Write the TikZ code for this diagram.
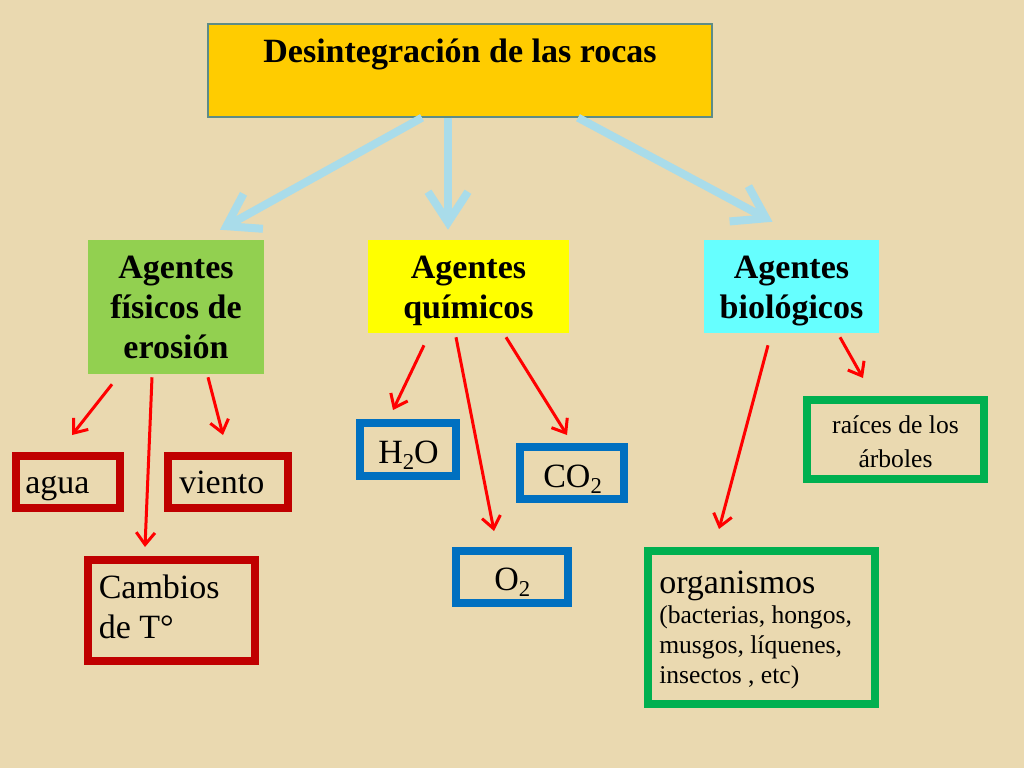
\documentclass[tikz,border=0pt]{standalone}
\usepackage{fontspec}
\setmainfont{Liberation Serif}
\usetikzlibrary{arrows.meta,calc,fit}
\definecolor{bg}{HTML}{EAD9B0}
\definecolor{topfill}{HTML}{FFCC00}
\definecolor{topline}{HTML}{5E8C86}
\definecolor{greenfill}{HTML}{92D050}
\definecolor{yellowfill}{HTML}{FFFF00}
\definecolor{cyanfill}{HTML}{66FFFF}
\definecolor{redline}{HTML}{C00000}
\definecolor{blueline}{HTML}{0070C0}
\definecolor{greenline}{HTML}{00B050}
\definecolor{paleblue}{HTML}{A9DCEA}
\definecolor{arrowred}{HTML}{FF0000}
\newcommand{\bigf}{\fontsize{25.5}{30}\selectfont}
\newcommand{\smallf}{\fontsize{19.2}{22.5}\selectfont}
\newcommand{\midf}{\fontsize{19.2}{25.5}\selectfont}
\newcommand{\subtwo}{\raisebox{-4.5pt}{\fontsize{17}{17}\selectfont 2}}
\tikzset{
  fillbox/.style={inner sep=0pt, draw=none},
  framebox/.style={inner sep=0pt, line width=6pt},
  redbox/.style={framebox, draw=redline},
  bluebox/.style={framebox, draw=blueline},
  greenbox/.style={framebox, draw=greenline},
  txt/.style={inner sep=0pt, font=\bigf},
  boldtxt/.style={inner sep=0pt, font=\bigf\bfseries, align=center},
  bigarrow/.style={draw=paleblue, line width=6pt,
    -{Straight Barb[length=23pt,width=30pt,line width=6pt]}},
  redarrow/.style={draw=arrowred, line width=2.25pt,
    -{Straight Barb[length=9pt,width=14pt,line width=2.25pt]}}
}
\begin{document}
\begin{tikzpicture}[x=0.75pt,y=-0.75pt]
\fill[bg] (0,0) rectangle (1024,768);
\useasboundingbox (0,0) rectangle (1024,768);

% top box
\node[fillbox, fill=topfill, draw=topline, line width=1pt, fit={(208,24)(712,117)}] (top) {};
\node[boldtxt, anchor=base] (toptxt) at (460,62) {Desintegración de las rocas};

% agent boxes
\node[fillbox, fill=greenfill, fit={(88,240)(264,374)}] (fis) {};
\node[boldtxt, anchor=base] (fistxt) at (176,358) {Agentes\\físicos de\\erosión};
\node[fillbox, fill=yellowfill, fit={(368,240)(569,333)}] (qui) {};
\node[boldtxt, anchor=base] (quitxt) at (468.5,318) {Agentes\\químicos};
\node[fillbox, fill=cyanfill, fit={(704,240)(879,333)}] (bio) {};
\node[boldtxt, anchor=base] (biotxt) at (791.5,318) {Agentes\\biológicos};

% physical agents
\node[redbox, fit={(16,456)(120,508)}] (agua) {};
\node[txt, anchor=base west] (aguatxt) at (25,493) {agua};
\node[redbox, fit={(168,456)(288,508)}] (viento) {};
\node[txt, anchor=base west] (vientotxt) at (179,493) {viento};
\node[redbox, fit={(88,560)(255,661)}] (temp) {};
\node[txt, anchor=base west, align=left] (temptxt) at (98.5,638) {Cambios\\de T°};

% chemical agents
\node[bluebox, fit={(360,423)(456,476)}] (h2o) {};
\node[txt, anchor=base west] (h2otxt) at (378,463) {H\subtwo O};
\node[bluebox, fit={(520,447)(624,499)}] (co2) {};
\node[txt, anchor=base west] (co2txt) at (543,487) {CO\subtwo};
\node[bluebox, fit={(456,551)(568,603)}] (o2) {};
\node[txt, anchor=base west] (o2txt) at (494,590) {O\subtwo};

% biological agents
\node[greenbox, fit={(807,400)(984,479)}] (raices) {};
\node[inner sep=0pt, font=\midf, align=center, anchor=base] (raicestxt) at (895.5,467)
  {raíces de los\\árboles};
\node[greenbox, fit={(648,551)(875,704)}] (org) {};
\node[inner sep=0pt, align=left, anchor=base west, font=\smallf] (orgtxt) at (659,683)
  {{\bigf organismos}\\(bacterias, hongos,\\musgos, líquenes,\\insectos , etc)};

% big arrows
\draw[bigarrow] ($(top.south)+(-38,0)$) -- ($(fis.north)+(44,-10)$);
\draw[bigarrow] ($(top.south)+(-12,0)$) -- ($(qui.north)+(-20.5,-10)$);
\draw[bigarrow] ($(top.south)+(118,0)$) -- ($(bio.north)+(-19,-18)$);

% red arrows
\draw[redarrow] ($(fis.south)+(-64,10)$) -- ($(agua.north)+(4,-17)$);
\draw[redarrow] ($(fis.south)+(-24,3)$) -- ($(temp.north)+(-26.5,-9)$);
\draw[redarrow] ($(fis.south)+(32,3)$) -- ($(viento.north)+(-5,-17)$);
\draw[redarrow] ($(qui.south)+(-44.5,12)$) -- ($(h2o.north)+(-15,-9)$);
\draw[redarrow] ($(qui.south)+(-12.5,4)$) -- ($(o2.north)+(-18,-16)$);
\draw[redarrow] ($(qui.south)+(37.5,4)$) -- ($(co2.north)+(-5,-8)$);
\draw[redarrow] ($(bio.south)+(-23.5,12)$) -- ($(org.north)+(-42.5,-18)$);
\draw[redarrow] ($(bio.south)+(48.5,4)$) -- ($(raices.north)+(-32.5,-18)$);
\end{tikzpicture}
\end{document}
